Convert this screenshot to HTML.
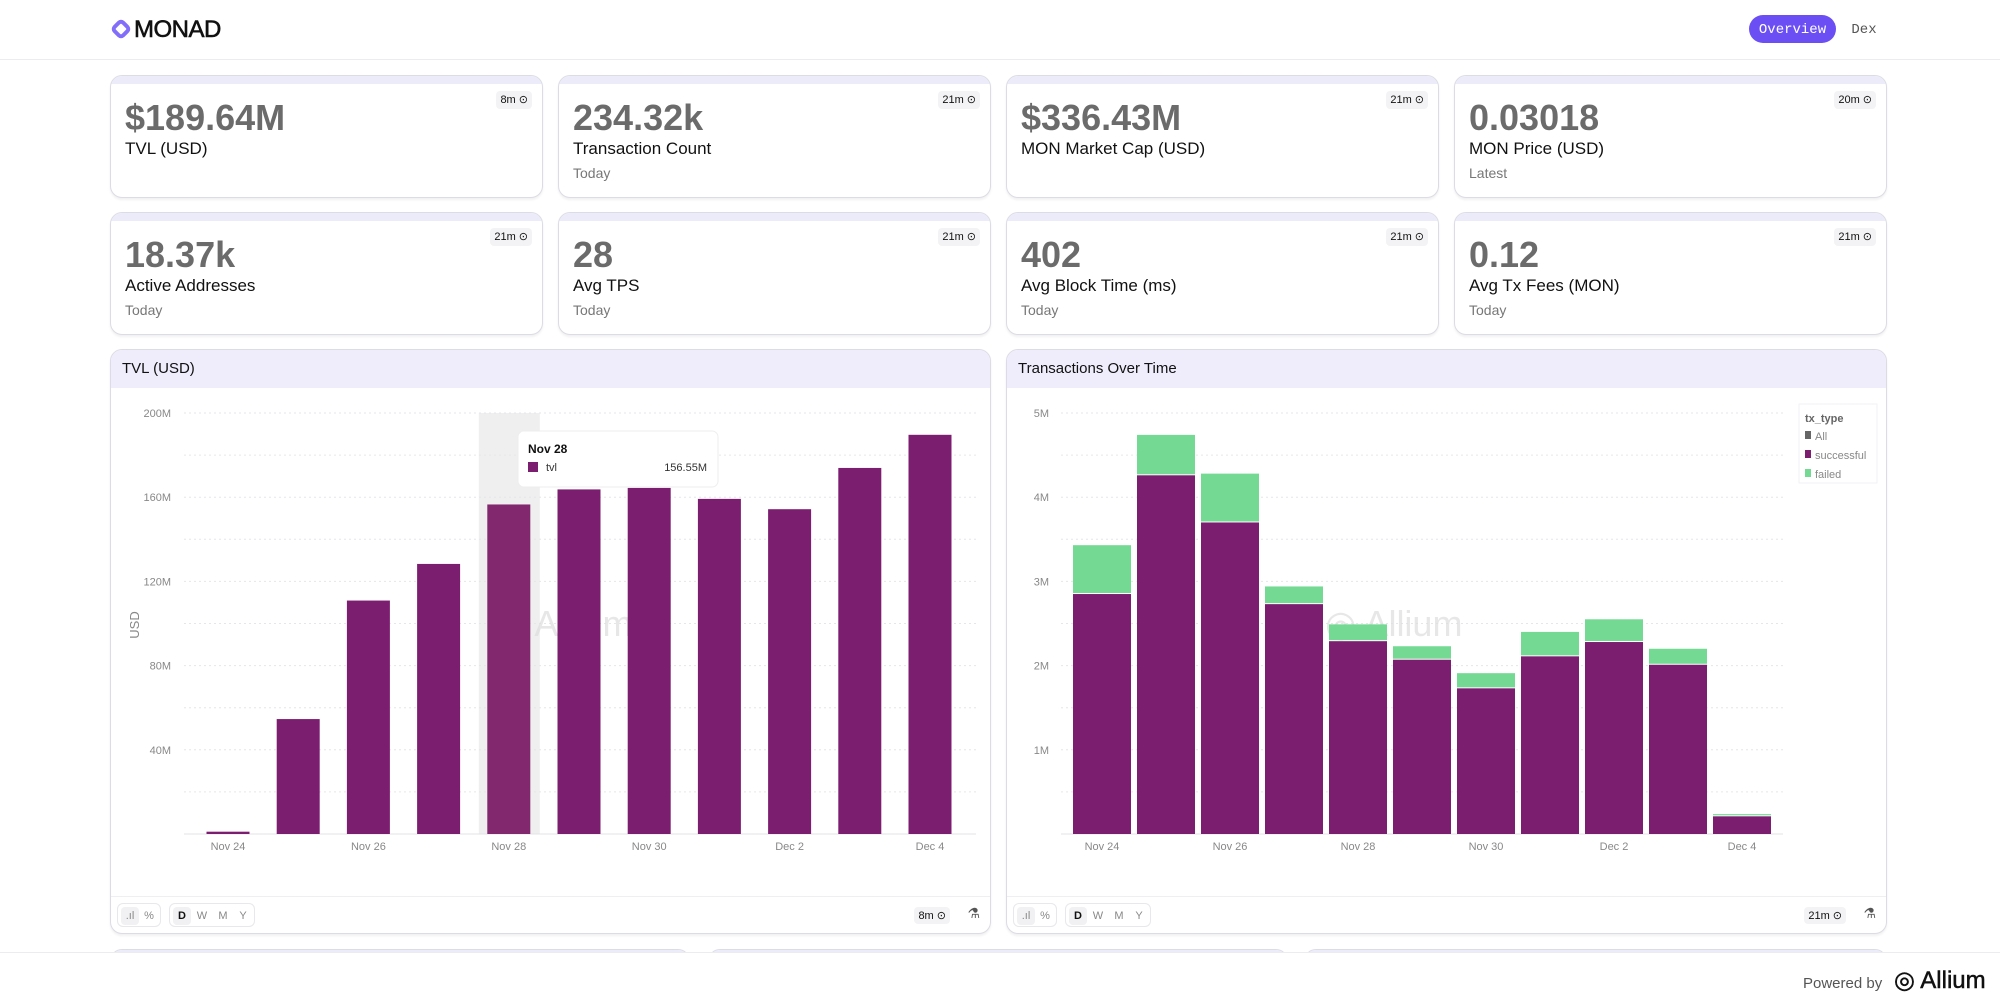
<!DOCTYPE html>
<html><head><meta charset="utf-8">
<style>
*{box-sizing:border-box;margin:0;padding:0}
body{width:2000px;height:1007px;overflow:hidden;background:#fff;font-family:"Liberation Sans",sans-serif;position:relative;color:#111}
.abs{position:absolute}
.hdr{left:0;top:0;width:2000px;height:60px;border-bottom:1px solid #ececf0}
.card{position:absolute;border:1px solid #dcdce4;border-radius:12px;background:#fff;overflow:hidden;box-shadow:0 2px 2px rgba(0,0,0,.06)}
.card .band{height:8px;background:#ecebfa}
.val{position:absolute;left:14px;top:21px;font-size:36px;font-weight:bold;color:#6b6b6b}
.lbl{position:absolute;left:14px;top:63px;font-size:17px;color:#111}
.sub{position:absolute;left:14px;top:89px;font-size:14px;color:#777}
.badge{position:absolute;top:15px;right:10px;height:18px;padding:0 4px;background:#f3f3f5;border-radius:4px;font-size:11px;line-height:18px;color:#111}
.panel{position:absolute;top:349px;height:585px;border:1px solid #dcdce4;border-radius:12px;background:#fff;overflow:hidden;box-shadow:0 2px 2px rgba(0,0,0,.06)}
.ptitle{height:38px;background:#efedfb;font-size:15px;line-height:38px;padding-left:11px}
.tool{position:absolute;left:0;right:0;top:546px;border-top:1px solid #efeff2}
.grp{position:absolute;top:6px;height:24px;border:1px solid #e8e8ec;border-radius:6px;font-size:11px;color:#888}
.grp span{position:absolute;top:3px;width:18px;height:18px;line-height:18px;text-align:center;border-radius:4px}
</style></head><body>
<div class="abs hdr">
 <svg class="abs" style="left:110px;top:18px" width="22" height="22"><rect x="5" y="5" width="12" height="12" rx="3" transform="rotate(45 11 11)" fill="none" stroke="#836ef9" stroke-width="4"/></svg>
 <div class="abs" style="left:134px;top:16px;font-size:24px;letter-spacing:-0.5px;-webkit-text-stroke:0.6px #111">MONAD</div>
 <div class="abs" style="left:1749px;top:15px;width:87px;height:28px;background:#6b4ff5;border-radius:14px;color:#fff;font-family:'Liberation Mono',monospace;font-size:14px;line-height:30px;text-align:center">Overview</div>
 <div class="abs" style="left:1844px;top:15px;width:40px;height:28px;color:#555;font-family:'Liberation Mono',monospace;font-size:14px;line-height:30px;text-align:center">Dex</div>
</div>

<div class="card" style="left:110px;top:75px;width:433px;height:123px"><div class="band"></div><div class="val">$189.64M</div><div class="lbl">TVL (USD)</div><div class="badge">8m ⊙</div></div>
<div class="card" style="left:558px;top:75px;width:433px;height:123px"><div class="band"></div><div class="val">234.32k</div><div class="lbl">Transaction Count</div><div class="sub">Today</div><div class="badge">21m ⊙</div></div>
<div class="card" style="left:1006px;top:75px;width:433px;height:123px"><div class="band"></div><div class="val">$336.43M</div><div class="lbl">MON Market Cap (USD)</div><div class="badge">21m ⊙</div></div>
<div class="card" style="left:1454px;top:75px;width:433px;height:123px"><div class="band"></div><div class="val">0.03018</div><div class="lbl">MON Price (USD)</div><div class="sub">Latest</div><div class="badge">20m ⊙</div></div>
<div class="card" style="left:110px;top:212px;width:433px;height:123px"><div class="band"></div><div class="val">18.37k</div><div class="lbl">Active Addresses</div><div class="sub">Today</div><div class="badge">21m ⊙</div></div>
<div class="card" style="left:558px;top:212px;width:433px;height:123px"><div class="band"></div><div class="val">28</div><div class="lbl">Avg TPS</div><div class="sub">Today</div><div class="badge">21m ⊙</div></div>
<div class="card" style="left:1006px;top:212px;width:433px;height:123px"><div class="band"></div><div class="val">402</div><div class="lbl">Avg Block Time (ms)</div><div class="sub">Today</div><div class="badge">21m ⊙</div></div>
<div class="card" style="left:1454px;top:212px;width:433px;height:123px"><div class="band"></div><div class="val">0.12</div><div class="lbl">Avg Tx Fees (MON)</div><div class="sub">Today</div><div class="badge">21m ⊙</div></div>

<div class="panel" style="left:110px;width:881px">
 <div class="ptitle">TVL (USD)</div>
 <svg id="c1" class="abs" style="left:0;top:0" width="881" height="546"></svg>
 <div class="tool">
  <div class="grp" style="left:6px;width:44px"><span style="left:3px;background:#f1f1f3">.ıl</span><span style="left:22px">%</span></div>
  <div class="grp" style="left:58px;width:86px"><span style="left:3px;background:#f1f1f3;color:#111;font-weight:bold">D</span><span style="left:23px">W</span><span style="left:44px">M</span><span style="left:64px">Y</span></div>
  <div class="abs" style="right:40px;top:10px;font-size:11px;background:#f3f3f5;padding:2px 4px;border-radius:4px">8m ⊙</div>
  <div class="abs" style="right:10px;top:8px;font-size:14px;color:#555">⚗</div>
 </div>
</div>
<div class="panel" style="left:1006px;width:881px">
 <div class="ptitle">Transactions Over Time</div>
 <svg id="c2" class="abs" style="left:0;top:0" width="881" height="546"></svg>
 <div class="tool">
  <div class="grp" style="left:6px;width:44px"><span style="left:3px;background:#f1f1f3">.ıl</span><span style="left:22px">%</span></div>
  <div class="grp" style="left:58px;width:86px"><span style="left:3px;background:#f1f1f3;color:#111;font-weight:bold">D</span><span style="left:23px">W</span><span style="left:44px">M</span><span style="left:64px">Y</span></div>
  <div class="abs" style="right:40px;top:10px;font-size:11px;background:#f3f3f5;padding:2px 4px;border-radius:4px">21m ⊙</div>
  <div class="abs" style="right:10px;top:8px;font-size:14px;color:#555">⚗</div>
 </div>
</div>

<div class="card" style="left:110px;top:949px;width:580px;height:40px"><div class="band"></div></div>
<div class="card" style="left:708px;top:949px;width:580px;height:40px"><div class="band"></div></div>
<div class="card" style="left:1304px;top:949px;width:583px;height:40px"><div class="band"></div></div>
<div class="abs" style="left:0;top:952px;width:2000px;height:55px;background:#fff;border-top:1px solid #ececf0">
 <div class="abs" style="left:1803px;top:22px;font-size:15px;color:#555">Powered by</div>
 <div class="abs" style="left:1894px;top:13px;font-size:24px;color:#111;-webkit-text-stroke:0.5px #111">◎ Allium</div>
</div>

<script>
const tvlDates=["Nov 24","Nov 25","Nov 26","Nov 27","Nov 28","Nov 29","Nov 30","Dec 1","Dec 2","Dec 3","Dec 4"];
const tvlValues=[1.1,54.6,110.9,128.3,156.55,163.7,164.4,159.2,154.3,173.9,189.64];
const tvlTicks=[0,40,80,120,160,200];
const tvlTickLabels=["","40M","80M","120M","160M","200M"];
const txDates=["Nov 24","Nov 25","Nov 26","Nov 27","Nov 28","Nov 29","Nov 30","Dec 1","Dec 2","Dec 3","Dec 4"];
const txSuccess=[2.85,4.26,3.70,2.73,2.29,2.07,1.73,2.11,2.28,2.01,0.21];
const txFailed=[0.58,0.48,0.58,0.21,0.20,0.16,0.18,0.29,0.27,0.19,0.026];
const txTicks=[0,1,2,3,4,5];
const txTickLabels=["","1M","2M","3M","4M","5M"];
const xLabelIdx=[0,2,4,6,8,10];
const NS="http://www.w3.org/2000/svg";
function mk(svg,tag,at,txt){const e=document.createElementNS(NS,tag);for(const k in at)e.setAttribute(k,at[k]);if(txt!==undefined)e.textContent=txt;svg.appendChild(e);return e;}
const PURPLE="#7c1e70",GREEN="#74d992";
const YB=484;
function axes(svg,x0,x1,yTop,yBot,max,ticks,labels,lx,minor,cx,dates){
 const y=v=>yBot-(v/max)*(yBot-yTop);
 for(let v=0;v<=max+1e-9;v+=minor){const g=mk(svg,'line',{x1:x0,x2:x1,y1:y(v),y2:y(v),stroke:v===0?'#e3e3e8':'#e6e6ea','stroke-dasharray':v===0?'':'2 3'});
 
 }
 ticks.forEach((t,i)=>{const e=mk(svg,'text',{x:lx,y:y(t)+4,'text-anchor':'end','font-size':11,fill:'#888'},labels[i]);
 
 });
 xLabelIdx.forEach(i=>{const e=mk(svg,'text',{x:cx(i),y:500,'text-anchor':'middle','font-size':11,fill:'#888'},dates[i]);
 
 });
 return y;
}
// Chart 1
(function(){
 const svg=document.getElementById('c1');
 const cx=i=>117+i*70.2;
 mk(svg,'rect',{x:cx(4)-30,y:63,width:61,height:YB-63,fill:'#efefef'});
 const y=axes(svg,73,865,63,YB,200,tvlTicks,tvlTickLabels,60,20,cx,tvlDates);
 const u=mk(svg,'text',{x:28,y:275,'font-size':13,fill:'#888',transform:'rotate(-90 28 275)','text-anchor':'middle'},'USD');
 
 
 mk(svg,'text',{x:384,y:286,'font-size':36,fill:'#ddd','fill-opacity':0.7},'◎ Allium');
 tvlValues.forEach((v,i)=>{const b=mk(svg,'rect',{x:cx(i)-21.5,y:y(v),width:43,height:YB-y(v),fill:i===4?'#82286f':PURPLE});
 
 });
 const tt=mk(svg,'g',{});
 
 
 mk(tt,'rect',{x:407,y:81,width:200,height:56,rx:6,fill:'#fff',stroke:'#eee'});
 mk(tt,'text',{x:417,y:103,'font-size':12,'font-weight':'bold',fill:'#111'},tvlDates[4]);
 mk(tt,'rect',{x:417,y:112,width:10,height:10,fill:PURPLE});
 mk(tt,'text',{x:435,y:121,'font-size':11,fill:'#333'},'tvl');
 mk(tt,'text',{x:596,y:121,'font-size':11,fill:'#333','text-anchor':'end'},tvlValues[4].toFixed(2)+'M');
})();
// Chart 2
(function(){
 const svg=document.getElementById('c2');
 const cx=i=>95+i*64;
 const y=axes(svg,54,776,63,YB,5,txTicks,txTickLabels,42,0.5,cx,txDates);
 mk(svg,'text',{x:318,y:286,'font-size':36,fill:'#ddd','fill-opacity':0.7},'◎ Allium');
 txSuccess.forEach((s,i)=>{const f=txFailed[i];
 const a=mk(svg,'rect',{x:cx(i)-29,y:y(s),width:58,height:YB-y(s),fill:PURPLE});
 
 
 const b=mk(svg,'rect',{x:cx(i)-29,y:y(s+f),width:58,height:y(s)-y(s+f)-1,fill:GREEN});
 
 });
 const lg=mk(svg,'g',{});
 
 
 mk(lg,'rect',{x:792,y:54,width:78,height:79,fill:'#fff',stroke:'#f2f2f4'});
 mk(lg,'text',{x:798,y:72,'font-size':11,'font-weight':'bold',fill:'#666'},'tx_type');
 [['All','#666'],['successful',PURPLE],['failed',GREEN]].forEach((e,i)=>{
  mk(lg,'rect',{x:798,y:81+i*19,width:6,height:8,fill:e[1]});
  const t=mk(lg,'text',{x:808,y:90+i*19,'font-size':11,fill:'#888'},e[0]);
  
  
 });
})();
</script>
</body></html>
